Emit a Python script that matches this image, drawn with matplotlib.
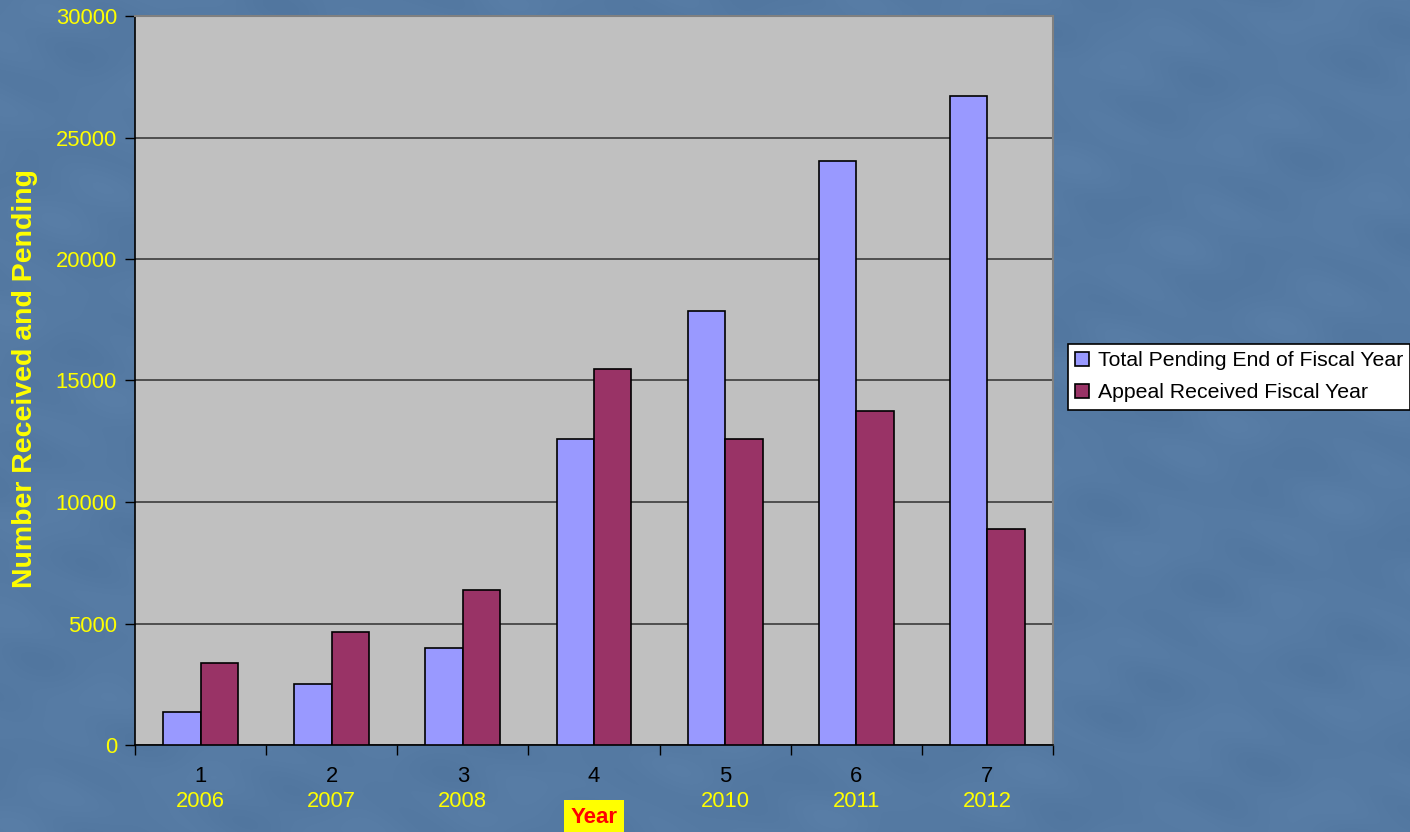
import numpy as np
import matplotlib
matplotlib.use("Agg")
import matplotlib.pyplot as plt

# Values per fiscal year
categories = ["1", "2", "3", "4", "5", "6", "7"]
years = ["2006", "2007", "2008", "", "2010", "2011", "2012"]
total_pending = [1370, 2520, 3980, 12600, 17860, 24050, 26720]
appeals_received = [3370, 4650, 6380, 15470, 12590, 13740, 8890]
series_names = ["Total Pending End of Fiscal Year", "Appeal Received Fiscal Year"]
y_ticks = [0, 5000, 10000, 15000, 20000, 25000, 30000]

BG = "#557aa3"
plt.rcParams["font.family"] = ["Liberation Sans", "DejaVu Sans"]

fig = plt.figure(figsize=(14.1, 8.32), dpi=100, facecolor=BG)

# Mottled slide-style backdrop
h, w = 832, 1410
yy, xx = np.mgrid[0:h, 0:w]
tex = (np.sin(xx / 37.0 + yy / 23.0) * np.cos(yy / 51.0 - xx / 83.0)
       + 0.6 * np.sin((xx - 2 * yy) / 19.0) * np.sin((xx + yy) / 61.0))
tex = tex / np.abs(tex).max()
base = np.array([0x55, 0x7a, 0xa3]) / 255.0
img = np.clip(base[None, None, :] + 0.015 * tex[:, :, None], 0, 1)
fig.figimage(img, xo=0, yo=0, zorder=0)

ax = fig.add_axes([135 / 1410, 87 / 832, 918 / 1410, 729 / 832])
ax.set_zorder(2)
ax.set_facecolor("#c0c0c0")

x = np.arange(len(categories))
bw = 1 / 3.5
ax.bar(x - bw / 2, total_pending, width=bw, color="#9999ff",
       edgecolor="black", linewidth=1.2, label=series_names[0], zorder=3)
ax.bar(x + bw / 2, appeals_received, width=bw, color="#993366",
       edgecolor="black", linewidth=1.2, label=series_names[1], zorder=3)

ax.set_xlim(-0.5, len(categories) - 0.5)
ax.set_ylim(0, 30000)
ax.set_yticks(y_ticks)
ax.set_yticklabels([str(v) for v in y_ticks], color="yellow", fontsize=15.8)
ax.yaxis.grid(True, color="#303030", linewidth=1.1, zorder=1)
ax.tick_params(axis="y", direction="out", length=7, width=1, color="black", pad=6)

# Tick marks at category boundaries; labels drawn separately
ax.set_xticks(np.arange(len(categories) + 1) - 0.5)
ax.set_xticklabels([])
ax.tick_params(axis="x", direction="out", length=7, width=1, color="black")

for i, (c, yr) in enumerate(zip(categories, years)):
    ax.annotate(c, xy=(i, 0), xycoords=("data", "axes fraction"),
                xytext=(0, -22.5), textcoords="offset points",
                ha="center", va="center", fontsize=15.8, color="black")
    if yr:
        ax.annotate(yr, xy=(i, 0), xycoords=("data", "axes fraction"),
                    xytext=(0, -40.5), textcoords="offset points",
                    ha="center", va="center", fontsize=15.8, color="yellow")

ax.annotate("Year", xy=(3, 0), xycoords=("data", "axes fraction"),
            xytext=(0, -52), textcoords="offset points",
            ha="center", va="center", fontsize=16, color="red", fontweight="bold",
            bbox=dict(boxstyle="square,pad=0.3", facecolor="yellow", edgecolor="none"))

for side in ("left", "bottom"):
    ax.spines[side].set_color("black")
    ax.spines[side].set_linewidth(1.2)
for side in ("top", "right"):
    ax.spines[side].set_color("#808080")
    ax.spines[side].set_linewidth(1.5)

fig.text(25 / 1410, (832 - 378) / 832, "Number Received and Pending",
         rotation=90, ha="center", va="center", fontsize=20.5,
         fontweight="bold", color="yellow", zorder=3)

leg = fig.legend(loc="upper left", bbox_to_anchor=(1068 / 1410, (832 - 344) / 832),
                 bbox_transform=fig.transFigure, borderaxespad=0,
                 fontsize=15.3, frameon=True, fancybox=False, shadow=False,
                 framealpha=1.0,
                 handlelength=0.65, handleheight=0.65, handletextpad=0.4,
                 labelspacing=0.6, borderpad=0.35)
leg.set_zorder(3)
leg.get_frame().set_edgecolor("black")
leg.get_frame().set_linewidth(1.2)
leg.get_frame().set_facecolor("white")

fig.savefig("out.png", dpi=100, facecolor=BG)
